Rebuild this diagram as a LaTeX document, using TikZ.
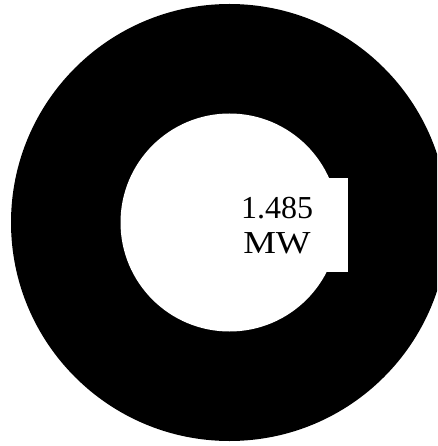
\documentclass[tikz,border=0pt]{standalone}
\usepackage{fontspec}
\setmainfont{Liberation Serif}
\begin{document}
\begin{tikzpicture}[x=1pt,y=-1pt,
  valtext/.style={inner sep=0pt,anchor=base,font=\fontsize{32}{35}\selectfont}]
\useasboundingbox (0,0) rectangle (437,446);
\begin{scope}
\clip (0,0) rectangle (437,446);
\fill[black] (229.5,222.5) circle[radius=218.5];
\fill[white] (229.5,222.5) circle[radius=109];
\fill[white] (300,178) rectangle (348,272);
\end{scope}
\node[valtext] (val) at (277,218.3) {1.485};
\node[valtext] (unit) at (277,253.3) {\scalebox{1.15}[1]{MW}};
\end{tikzpicture}
\end{document}
